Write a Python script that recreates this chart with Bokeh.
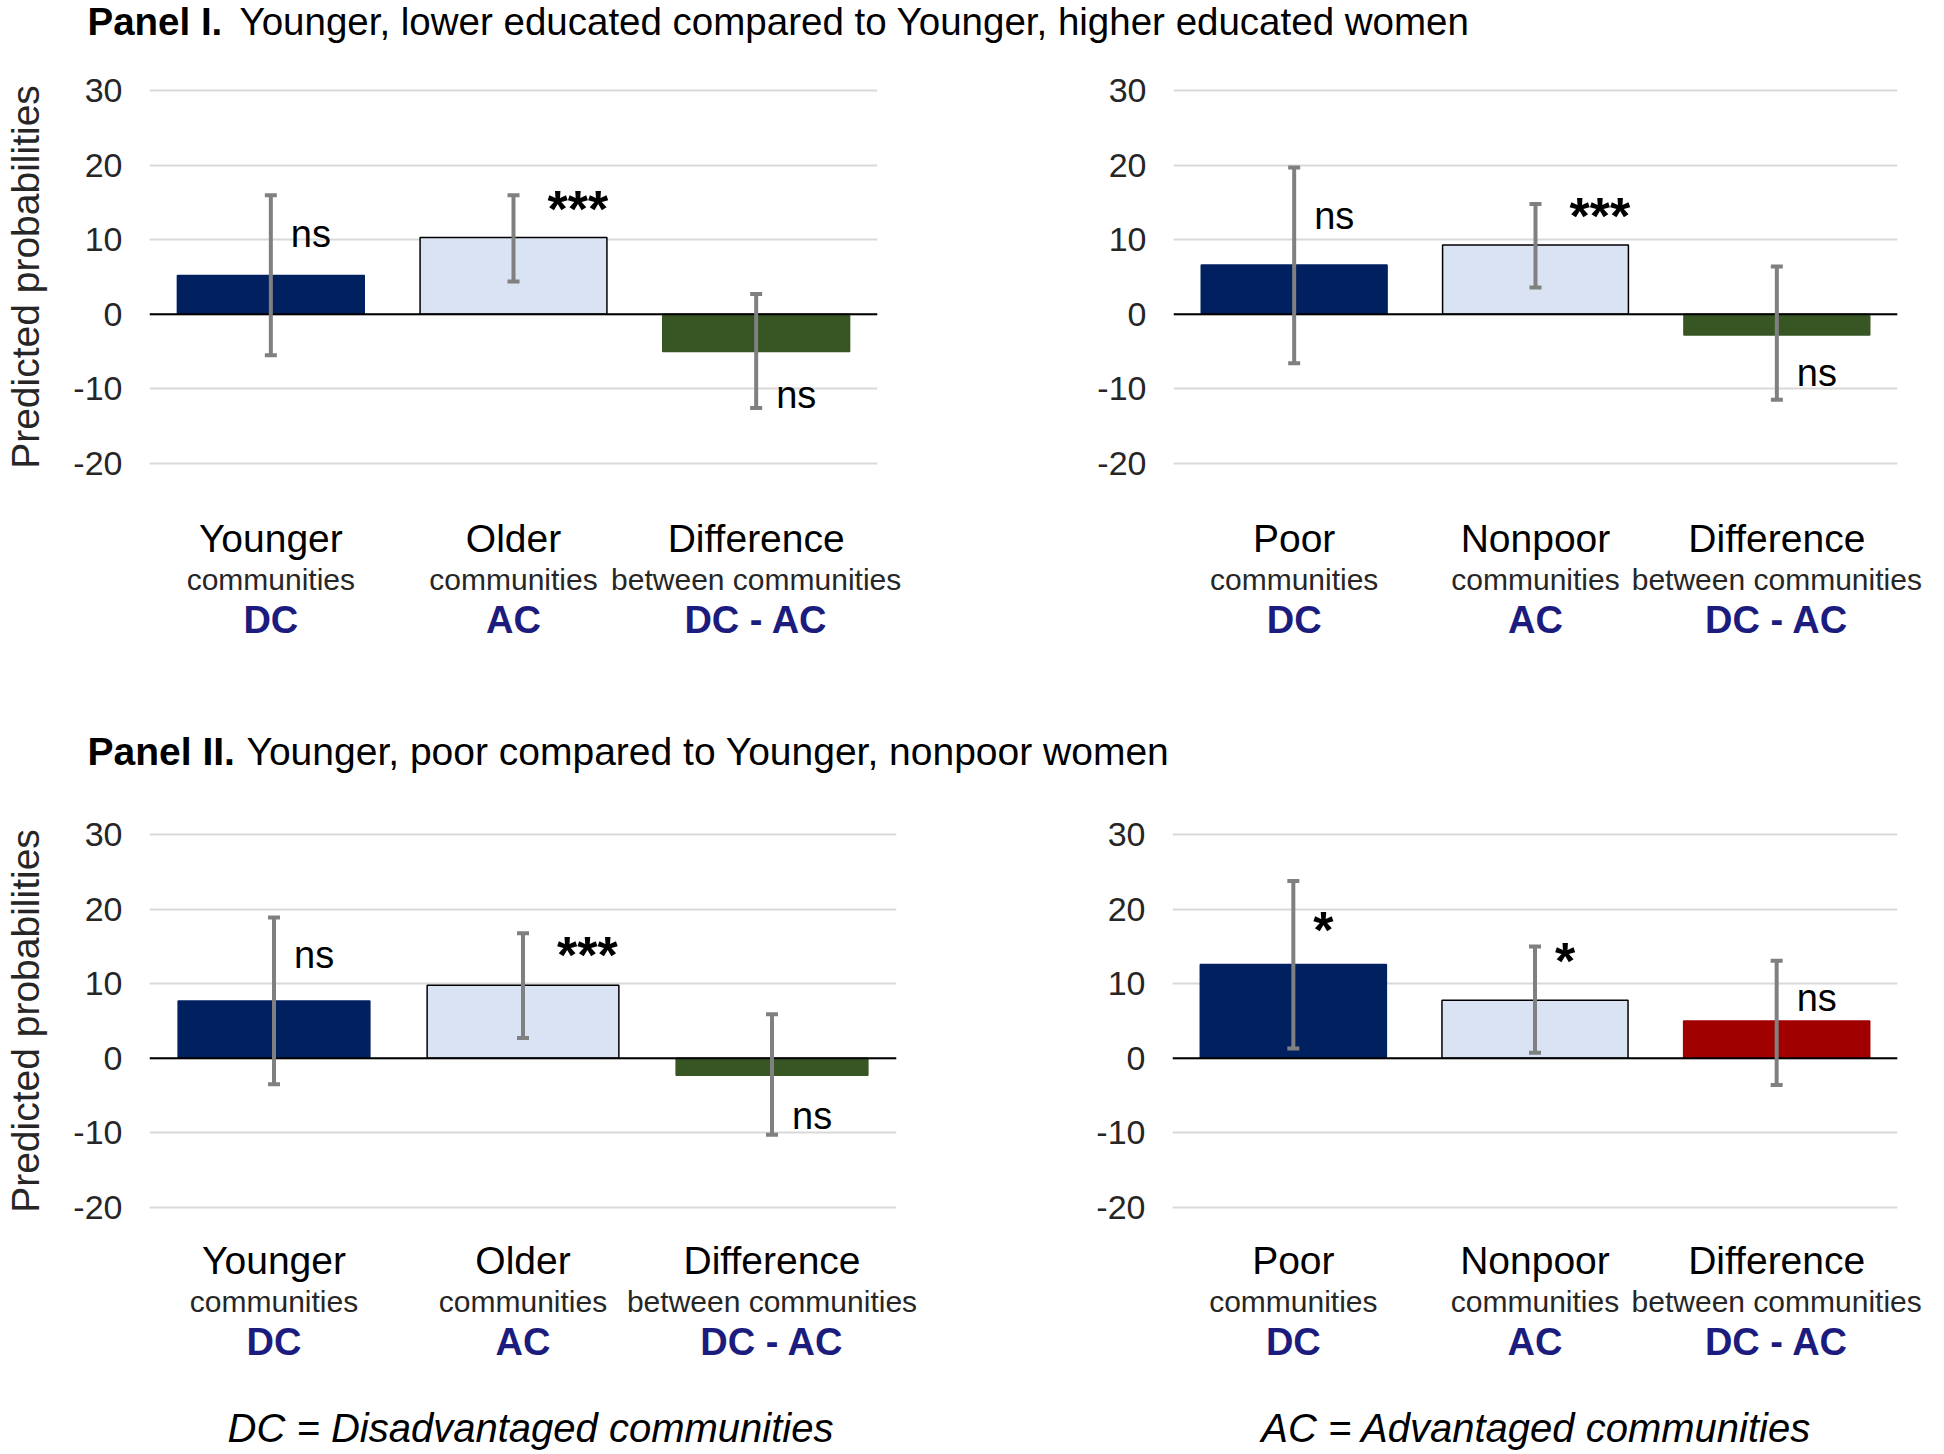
from bokeh.plotting import figure
from bokeh.models import (FixedTicker, LinearAxis, Range1d, Span, Whisker, TeeHead,
                          ColumnDataSource)
from bokeh.layouts import column, row
from bokeh.embed import file_html
from bokeh.resources import INLINE
from bokeh.core.properties import value

# ---------------- data ----------------
positions = [1, 2, 3]
y_ticks = [-20, -10, 0, 10, 20, 30]

titles_bold = ["Panel I.", "Panel II."]
titles_rest = ["Younger, lower educated compared to Younger, higher educated women",
               "Younger, poor compared to Younger, nonpoor women"]

cat_top_age = ["Younger", "Older", "Difference"]
cat_top_pov = ["Poor", "Nonpoor", "Difference"]
cat_mid = ["communities", "communities", "between communities"]
cat_bot = ["DC", "AC", "DC - AC"]

# Panel I left (education, age communities)
p1_vals = [5.2, 10.3, -5.0]
p1_lo = [-5.5, 4.4, -12.6]
p1_hi = [16.0, 16.0, 2.7]
p1_sig = ["ns", "***", "ns"]
p1_sig_y = [11.1, 14.9, -10.6]

# Panel I right (education, poverty communities)
p2_vals = [6.6, 9.3, -2.8]
p2_lo = [-6.6, 3.6, -11.5]
p2_hi = [19.7, 14.8, 6.4]
p2_sig = ["ns", "***", "ns"]
p2_sig_y = [13.4, 14.0, -7.6]

# Panel II left (poverty, age communities)
p3_vals = [7.7, 9.8, -2.3]
p3_lo = [-3.5, 2.7, -10.3]
p3_hi = [18.9, 16.8, 5.9]
p3_sig = ["ns", "***", "ns"]
p3_sig_y = [14.2, 14.7, -7.5]

# Panel II right (poverty, poverty communities)
p4_vals = [12.6, 7.8, 5.0]
p4_lo = [1.3, 0.75, -3.6]
p4_hi = [23.8, 15.0, 13.1]
p4_sig = ["*", "*", "ns"]
p4_sig_y = [18.0, 13.9, 8.4]

footnotes = ["DC = Disadvantaged communities", "AC = Advantaged communities"]

# ---------------- styles ----------------
FONT = "Liberation Sans"
NAVY = "#002060"
LIGHT = "#DAE3F3"
GREEN = "#375623"
RED = "#A00000"
DCBLUE = "#1C1C7E"
TXT = "#262626"

panel_colors = {
    "p1": [NAVY, LIGHT, GREEN],
    "p2": [NAVY, LIGHT, GREEN],
    "p3": [NAVY, LIGHT, GREEN],
    "p4": [NAVY, LIGHT, RED],
}


def make_panel(vals, lo, hi, sig, sig_y, top_labels, colors, frame_w, border_l,
               border_r, border_t, border_b, show_ylabel, standoffs):
    p = figure(frame_width=frame_w, frame_height=387, output_backend="svg",
               toolbar_location=None, x_range=Range1d(0.5, 3.5),
               y_range=Range1d(-21, 31), x_axis_location=None,
               min_border_left=border_l, min_border_right=border_r,
               min_border_top=border_t, min_border_bottom=border_b)
    p.outline_line_color = None
    p.xgrid.visible = False
    p.ygrid.ticker = FixedTicker(ticks=y_ticks)
    p.ygrid.grid_line_color = "#D9D9D9"
    p.ygrid.grid_line_width = 2

    yax = p.yaxis[0]
    yax.ticker = FixedTicker(ticks=y_ticks)
    yax.major_label_overrides = {t: str(t) for t in y_ticks}
    yax.axis_line_color = None
    yax.major_tick_line_color = None
    yax.minor_tick_line_color = None
    yax.major_label_text_font = FONT
    yax.major_label_text_font_size = "34px"
    yax.major_label_text_color = TXT
    yax.major_label_standoff = 21
    if show_ylabel:
        yax.axis_label = "Predicted probabilities"
        yax.axis_label_text_font = FONT
        yax.axis_label_text_font_size = "39px"
        yax.axis_label_text_font_style = "normal"
        yax.axis_label_text_color = TXT
        yax.axis_label_standoff = 23

    line_colors = ["black" if c == LIGHT else c for c in colors]
    p.vbar(x=positions, top=vals, bottom=0, width=0.77, fill_color=colors,
           line_color=line_colors, line_width=1.5)

    p.add_layout(Span(location=0, dimension="width", line_color="black", line_width=2))

    src = ColumnDataSource(dict(x=positions, lo=lo, hi=hi))
    w = Whisker(source=src, base="x", lower="lo", upper="hi",
                line_color="#808080", line_width=4, level="overlay",
                upper_head=TeeHead(size=12, line_color="#808080", line_width=4),
                lower_head=TeeHead(size=12, line_color="#808080", line_width=4))
    p.add_layout(w)

    is_star = [s.startswith("*") for s in sig]
    styles = ["bold" if st else "normal" for st in is_star]
    sizes = ["52px" if st else "38px" for st in is_star]
    xoff = [20 + 7 * (len(s) - 1) if st else 20 for s, st in zip(sig, is_star)]
    yoff = [6 if st else 2 for st in is_star]
    p.text(x=positions, y=sig_y, text=sig, text_font=value(FONT),
           text_font_size=sizes, text_font_style=styles, text_color="black",
           text_align="left", text_baseline="middle", x_offset=xoff, y_offset=yoff)

    specs = [
        (top_labels, "39px", "normal", "black", standoffs[0]),
        (cat_mid, "30px", "normal", TXT, standoffs[1]),
        (cat_bot, "38px", "bold", DCBLUE, standoffs[2]),
    ]
    for labels, size, style, color, so in specs:
        ax = LinearAxis(ticker=FixedTicker(ticks=positions),
                        major_label_overrides={pos: lab for pos, lab in zip(positions, labels)})
        ax.axis_line_color = None
        ax.major_tick_line_color = None
        ax.minor_tick_line_color = None
        ax.major_tick_out = 0
        ax.major_label_text_font = FONT
        ax.major_label_text_font_size = size
        ax.major_label_text_font_style = style
        ax.major_label_text_color = color
        ax.major_label_standoff = so
        p.add_layout(ax, "below")
    return p


def text_strip(width, height, items, size):
    f = figure(width=width, height=height, output_backend="svg", toolbar_location=None,
               x_range=Range1d(0, width), y_range=Range1d(0, height),
               x_axis_location=None, y_axis_location=None, min_border=0)
    f.outline_line_color = None
    f.grid.visible = False
    for x, y, txt, style, align in items:
        f.text(x=[x], y=[y], text=[txt], text_font=value(FONT), text_font_size=size,
               text_font_style=style, text_color="black", text_align=align,
               text_baseline="middle")
    return f


TOTAL_W = 1933

t1 = text_strip(TOTAL_W, 50, [(87, 29, titles_bold[0], "bold", "left"),
                              (239, 29, titles_rest[0], "normal", "left")], "38.5px")

p1 = make_panel(p1_vals, p1_lo, p1_hi, p1_sig, p1_sig_y, cat_top_age, panel_colors["p1"],
                728, 149, 30, 33, 250, True, (46, 0, 0))
p2 = make_panel(p2_vals, p2_lo, p2_hi, p2_sig, p2_sig_y, cat_top_pov, panel_colors["p2"],
                724, 266, 36, 33, 250, False, (46, 0, 0))

t2 = text_strip(TOTAL_W, 60, [(87, 29, titles_bold[1], "bold", "left"),
                              (246, 29, titles_rest[1], "normal", "left")], "39px")

p3 = make_panel(p3_vals, p3_lo, p3_hi, p3_sig, p3_sig_y, cat_top_age, panel_colors["p3"],
                747, 149, 30, 47, 178, True, (24, 0, 0))
p4 = make_panel(p4_vals, p4_lo, p4_hi, p4_sig, p4_sig_y, cat_top_pov, panel_colors["p4"],
                725, 246, 36, 47, 178, False, (24, 0, 0))

t3 = text_strip(TOTAL_W, 60, [(530, 25, footnotes[0], "italic", "center"),
                              (1536, 25, footnotes[1], "italic", "center")], "40px")

layout = column(t1, row(p1, p2), t2, row(p3, p4), t3)

open("out.html", "w").write(file_html(layout, INLINE))
